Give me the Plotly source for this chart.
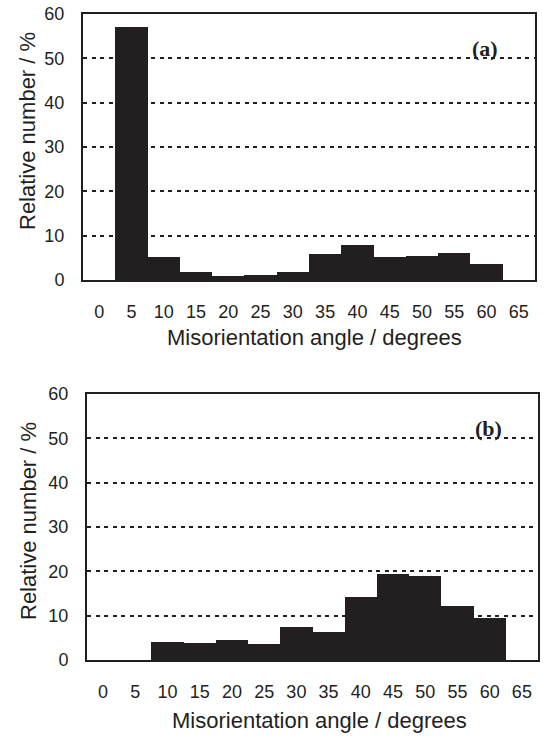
import plotly.graph_objects as go

angles = ["0", "5", "10", "15", "20", "25", "30", "35", "40", "45", "50", "55", "60", "65"]
values_a = [0, 57.0, 5.3, 1.9, 0.9, 1.1, 1.9, 5.8, 7.8, 5.2, 5.4, 6.1, 3.6, 0]
values_b = [0, 0, 4.1, 3.8, 4.5, 3.5, 7.4, 6.3, 14.1, 19.3, 18.9, 12.2, 9.5, 0]
y_ticks = [0, 10, 20, 30, 40, 50, 60]
panel_labels = ["(a)", "(b)"]
x_title = "Misorientation angle / degrees"
y_title = "Relative number / %"

W, H = 547, 738
BAR = "#231f20"
FONT = "Liberation Sans, Arial, sans-serif"

fig = go.Figure()
fig.add_trace(go.Bar(x=angles, y=values_a, xaxis="x", yaxis="y",
                     marker=dict(color=BAR, line=dict(width=0)),
                     showlegend=False))
fig.add_trace(go.Bar(x=angles, y=values_b, xaxis="x2", yaxis="y2",
                     marker=dict(color=BAR, line=dict(width=0)),
                     showlegend=False))

def px_x(p):
    return p / W

def px_y(p):
    return 1 - p / H

xcommon = dict(type="category", categoryorder="array", categoryarray=angles,
               showline=True, mirror=True, linecolor=BAR, linewidth=2,
               showgrid=False, ticks="", ticklabelstandoff=14, automargin=False,
               tickfont=dict(family=FONT, size=18, color="#231f20"),
               range=[-0.5, 13.5], fixedrange=True)
ycommon = dict(range=[0, 60], tickvals=y_ticks, showline=True, mirror=True,
               linecolor=BAR, linewidth=2, showgrid=True, gridcolor="#231f20",
               gridwidth=2, griddash="4px,4.5px", zeroline=False, ticks="",
               ticklabelstandoff=13, automargin=False,
               tickfont=dict(family=FONT, size=18, color="#231f20"))

fig.update_layout(
    width=W, height=H, margin=dict(l=0, r=0, t=0, b=0, autoexpand=False),
    paper_bgcolor="white", plot_bgcolor="white", bargap=0,
    xaxis=dict(domain=[px_x(83), px_x(535)], anchor="y", **xcommon),
    yaxis=dict(domain=[px_y(280), px_y(14)], anchor="x", **ycommon),
    xaxis2=dict(domain=[px_x(87), px_x(538)], anchor="y2", **xcommon),
    yaxis2=dict(domain=[px_y(660), px_y(394)], anchor="x2", **ycommon),
)

for lbl, yref, xref in [(panel_labels[0], "y", "x"), (panel_labels[1], "y2", "x2")]:
    fig.add_annotation(text="<b>" + lbl + "</b>", xref=xref + " domain", yref=yref + " domain",
                       x=0.89, y=0.87, xanchor="center", yanchor="middle", showarrow=False,
                       font=dict(family="Liberation Serif, Times New Roman, serif", size=22,
                                 color="#231f20"))

# axis titles (positioned in page pixels)
for (xc, yc) in [(314, 338), (319, 720)]:
    fig.add_annotation(text=x_title, xref="paper", yref="paper", x=px_x(xc), y=px_y(yc),
                       xanchor="center", yanchor="middle", showarrow=False,
                       font=dict(family=FONT, size=22, color="#231f20"))
for (xc, yc) in [(27, 131), (28, 521)]:
    fig.add_annotation(text=y_title, xref="paper", yref="paper", x=px_x(xc), y=px_y(yc),
                       xanchor="center", yanchor="middle", showarrow=False, textangle=-90,
                       font=dict(family=FONT, size=22, color="#231f20"))

fig.write_html("out.html")
